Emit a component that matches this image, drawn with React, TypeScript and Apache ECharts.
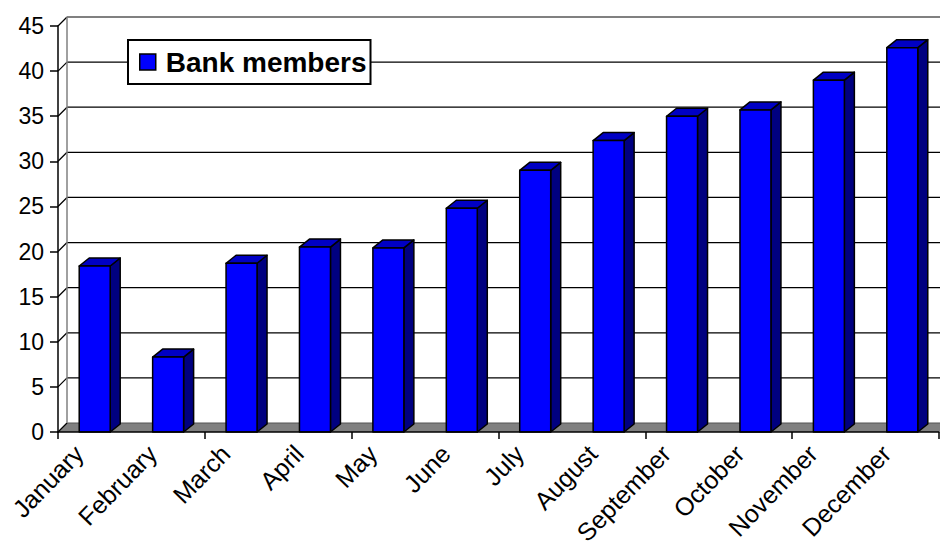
import React, { useEffect, useRef } from 'react';
import * as echarts from 'echarts';

const months = ['January', 'February', 'March', 'April', 'May', 'June', 'July', 'August', 'September', 'October', 'November', 'December'];
const members = [18.4, 8.3, 18.7, 20.5, 20.4, 24.8, 29.0, 32.3, 35.0, 35.7, 39.0, 42.6];
const yTicks = [0, 5, 10, 15, 20, 25, 30, 35, 40, 45];
const seriesName = 'Bank members';

const FONT = '"Liberation Sans", Arial, sans-serif';
const DX = 9;
const DY = 9;
const BDX = 10;
const BDY = 8;
const LABEL_SHIFT = 16;

export default function App() {
  const ref = useRef<HTMLDivElement>(null);
  useEffect(() => {
    if (!ref.current) return;
    const chart = echarts.init(ref.current, undefined, { renderer: 'svg' });
    const option: any = {
      animation: false,
      backgroundColor: '#ffffff',
      grid: [
        { left: 58, right: 1, top: 26, bottom: 116, containLabel: false },
        { left: 58 - LABEL_SHIFT, right: 1 + LABEL_SHIFT, top: 26, bottom: 116, containLabel: false },
      ],
      legend: {
        data: [{ name: seriesName, icon: 'rect', itemStyle: { color: '#0000FF', borderColor: '#000', borderWidth: 1.5 } }],
        left: 128,
        top: 40,
        itemWidth: 16,
        itemHeight: 16,
        padding: [8, 4, 8, 11],
        borderColor: '#000',
        borderWidth: 2,
        backgroundColor: '#ffffff',
        selectedMode: false,
        textStyle: { fontFamily: FONT, fontSize: 28, fontWeight: 'bold', color: '#000', padding: [0, 0, 0, 5] },
        z: 10,
      },
      xAxis: [
        {
          type: 'category',
          gridIndex: 0,
          data: months,
          boundaryGap: true,
          axisLine: { show: true, lineStyle: { color: '#000', width: 1.5 } },
          axisTick: { show: true, length: 7, lineStyle: { color: '#000', width: 1.5 } },
          axisLabel: { show: false },
          splitLine: { show: false },
          z: 5,
        },
        {
          type: 'category',
          gridIndex: 1,
          data: months,
          boundaryGap: true,
          axisLine: { show: false },
          axisTick: { show: false },
          axisLabel: {
            rotate: 46,
            interval: 0,
            margin: 32,
            fontFamily: FONT,
            fontSize: 25,
            color: '#000',
          },
          splitLine: { show: false },
        },
      ],
      yAxis: [
        {
          type: 'value',
          gridIndex: 0,
          min: 0,
          max: 45,
          interval: 5,
          axisLine: { show: true, lineStyle: { color: '#000', width: 1.5 } },
          axisTick: { show: true, length: 8, lineStyle: { color: '#000', width: 1.5 } },
          axisLabel: { margin: 14, fontFamily: FONT, fontSize: 23, color: '#000' },
          splitLine: { show: false },
          z: 5,
        },
        {
          type: 'value',
          gridIndex: 1,
          min: 0,
          max: 45,
          interval: 5,
          show: false,
        },
      ],
      series: [
        {
          type: 'custom',
          name: 'walls',
          silent: true,
          z: 1,
          xAxisIndex: 0,
          yAxisIndex: 0,
          data: yTicks.map((v) => [0, v]),
          renderItem: (params: any, api: any) => {
            const cs = params.coordSys;
            const v = api.value(1);
            const y = api.coord([0, v])[1];
            const y0 = api.coord([0, 0])[1];
            const xl = cs.x;
            const xr = cs.x + cs.width;
            const children: any[] = [];
            if (v === 0) {
              children.push({
                type: 'polygon',
                shape: { points: [[xl, y], [xr, y], [xr + DX, y - DY], [xl + DX, y - DY]] },
                style: { fill: '#808080', stroke: null },
              });
              children.push({
                type: 'line',
                shape: { x1: xl + DX, y1: y - DY, x2: xr + DX, y2: y - DY },
                style: { stroke: '#555', lineWidth: 1.2 },
              });
            } else {
              const top = v === 45;
              children.push({
                type: 'line',
                shape: { x1: xl + DX, y1: y - DY, x2: xr + DX, y2: y - DY },
                style: { stroke: top ? '#808080' : '#000', lineWidth: top ? 2 : 1.3 },
              });
            }
            children.push({
              type: 'line',
              shape: { x1: xl, y1: y, x2: xl + DX, y2: y - DY },
              style: { stroke: '#000', lineWidth: 1.3 },
            });
            if (v === 45) {
              children.push({
                type: 'line',
                shape: { x1: xl + DX, y1: y - DY, x2: xl + DX, y2: y0 - DY },
                style: { stroke: '#808080', lineWidth: 1.5 },
              });
            }
            return { type: 'group', children };
          },
        },
        {
          type: 'custom',
          name: seriesName,
          z: 3,
          xAxisIndex: 0,
          yAxisIndex: 0,
          itemStyle: { color: '#0000FF', borderColor: '#000', borderWidth: 1.5 },
          data: members.map((v, i) => [i, v]),
          renderItem: (params: any, api: any) => {
            const idx = api.value(0);
            const v = api.value(1);
            const top = api.coord([idx, v]);
            const bot = api.coord([idx, 0]);
            const band = api.size([1, 0])[0];
            const w = band * 0.422;
            const x0 = top[0] - w / 2;
            const x1 = top[0] + w / 2;
            const yt = top[1];
            const yb = bot[1];
            const edge = { stroke: '#000', lineWidth: 1.5, lineJoin: 'round' };
            return {
              type: 'group',
              children: [
                {
                  type: 'polygon',
                  shape: { points: [[x1, yb], [x1, yt], [x1 + BDX, yt - BDY], [x1 + BDX, yb - BDY]] },
                  style: { fill: '#000080', ...edge },
                },
                {
                  type: 'polygon',
                  shape: { points: [[x0, yt], [x1, yt], [x1 + BDX, yt - BDY], [x0 + BDX, yt - BDY]] },
                  style: { fill: '#0000C4', ...edge },
                },
                {
                  type: 'rect',
                  shape: { x: x0, y: yt, width: w, height: yb - yt },
                  style: { fill: '#0000FF', ...edge },
                },
              ],
            };
          },
        },
      ],
    };
    chart.setOption(option);
    return () => chart.dispose();
  }, []);
  return <div ref={ref} style={{ position: 'absolute', left: 0, top: 0, width: 940, height: 548 }} />;
}
